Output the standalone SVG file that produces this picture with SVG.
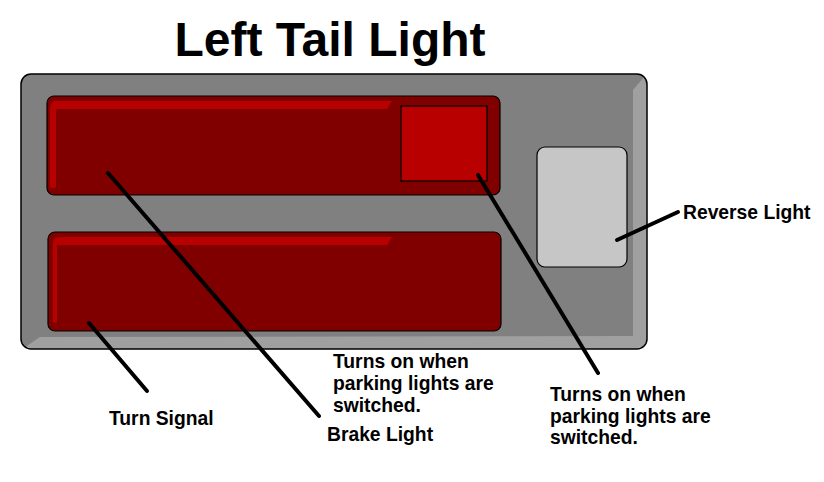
<svg xmlns="http://www.w3.org/2000/svg" width="824" height="482" viewBox="0 0 824 482">
<style>
.t{font-family:"Liberation Sans",Arial,sans-serif;font-weight:bold;fill:#000}
.lbl{font-size:19.3px}
.lamp{fill:#800000;stroke:#000;stroke-width:1.2}
.hl{fill:#b90000}
.ln{stroke:#000;stroke-width:4;stroke-linecap:round;fill:none}
</style>
<defs>
<clipPath id="hc"><rect x="21" y="74" width="626" height="275" rx="10"/></clipPath>
</defs>
<rect width="824" height="482" fill="#fff"/>
<text class="t" x="330" y="56" font-size="48" text-anchor="middle">Left Tail Light</text>
<g id="housing">
<rect x="21" y="74" width="626" height="275" rx="10" fill="#808080"/>
<polygon clip-path="url(#hc)" fill="#a0a0a0" points="650,70 650,352 18,352 40,337 633,336 633,90"/>
<rect x="21" y="74" width="626" height="275" rx="10" fill="none" stroke="#000" stroke-width="1.5"/>
</g>
<g id="brake-light">
<rect class="lamp" x="47" y="96" width="453" height="99" rx="7"/>
<path class="hl" d="M50,109 Q50,101 57,101 L392,101 L387,109 L56,109 L56,186 Q56,188 53,188 Q50,188 50,186 Z"/>
</g>
<g id="parking-light">
<rect x="401" y="106" width="86" height="75" fill="#b90000" stroke="#000" stroke-width="1.2"/>
</g>
<g id="turn-signal">
<rect class="lamp" x="48" y="232" width="453" height="99" rx="7"/>
<path class="hl" d="M53,245 Q53,237 60,237 L392,237 L387,245 L57,245 L57,321 Q57,323 55,323 Q53,323 53,321 Z"/>
</g>
<g id="reverse-light">
<rect x="537" y="147" width="90" height="120" rx="8" fill="#c6c6c6" stroke="#000" stroke-width="1.2"/>
</g>
<g id="connectors">
<line class="ln" x1="108" y1="173" x2="319" y2="416"/>
<line class="ln" x1="478" y1="175" x2="598" y2="373"/>
<line class="ln" x1="89" y1="323" x2="147" y2="391"/>
<line class="ln" x1="617" y1="240" x2="678" y2="212"/>
</g>
<g id="labels">
<text class="t lbl" x="683" y="219">Reverse Light</text>
<text class="t lbl" x="333" y="368">Turns on when</text>
<text class="t lbl" x="333" y="390">parking lights are</text>
<text class="t lbl" x="333" y="412">switched.</text>
<text class="t lbl" x="327" y="441">Brake Light</text>
<text class="t lbl" x="109" y="425">Turn Signal</text>
<text class="t lbl" x="550" y="401">Turns on when</text>
<text class="t lbl" x="550" y="423">parking lights are</text>
<text class="t lbl" x="550" y="444">switched.</text>
</g>
</svg>
